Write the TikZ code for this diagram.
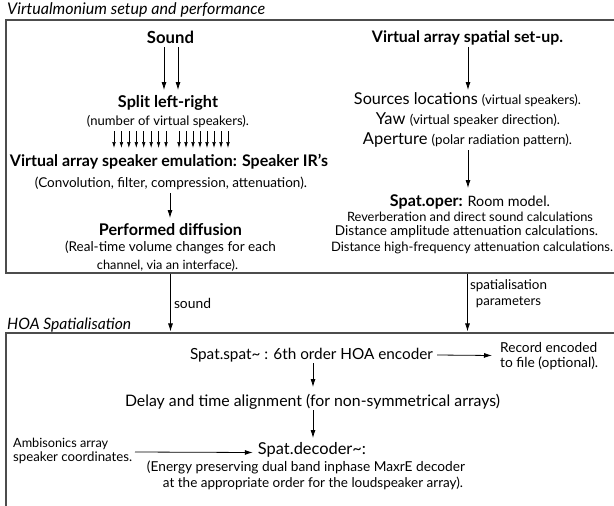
\documentclass[tikz,border=0pt]{standalone}
\usepackage{fontspec}
\usepackage{graphicx}
\setmainfont{Lato}
\usetikzlibrary{arrows.meta,calc}
\newcommand\fw[2]{\resizebox{#1pt}{!}{#2}}
\newcommand\smx{\fontsize{10.5}{12}\selectfont}
\tikzset{
  tx/.style={inner sep=0pt, font=\fontsize{12}{14}\selectfont},
  hb/.style={inner sep=0pt, font=\fontsize{13}{15}\selectfont\bfseries},
  ttl/.style={inner sep=0pt, anchor=west, font=\fontsize{13}{15}\selectfont\itshape},
  frame/.style={line width=1.2pt, draw=black!70, rectangle, inner sep=0pt},
  arr/.style={line width=0.8pt, -{Latex[length=8pt,width=5pt]}},
  sarr/.style={line width=0.6pt, -{Latex[length=6pt,width=3.6pt]}},
}
\begin{document}
\begin{tikzpicture}[x=1pt,y=-1pt]
\useasboundingbox (0,0) rectangle (614,506);
\fill[white] (0,0) rectangle (614,506);
\clip (0,0) rectangle (614,506);
% frames
\node[frame, minimum width=634pt, minimum height=253pt] (box1) at (323,146.5) {};
\node[frame, minimum width=634pt, minimum height=197pt] (box2) at (323,431.5) {};
\node[ttl] (t1) at (7,10) {\fw{258}{Virtualmonium setup and performance}};
\node[ttl] (t2) at (7,325) {\fw{124}{HOA Spatialisation}};
% left column
\node[hb] (sound) at (170.5,37.5) {\fw{47}{Sound}};
\node[hb] (split) at (168,103) {\fw{100}{Split left-right}};
\node[tx] (numspk) at (168,122) {\fw{162}{(number of virtual speakers).}};
\node[hb] (emul) at (169,162) {\fw{318}{Virtual array speaker emulation: Speaker IR’s}};
\node[tx] (conv) at (171,183) {\fw{272}{(Convolution, filter, compression, attenuation).}};
\node[hb] (perf) at (170.5,230) {\fw{143}{Performed diffusion}};
\node[tx] (real1) at (170.5,247) {\fw{211}{(Real-time volume changes for each}};
\node[tx] (real2) at (167.5,265) {\fw{141}{channel, via an interface).}};
\draw[arr] ($(sound)+(-6.5,9.5)$) -- ($(split)+(-4,-13)$);
\draw[arr] ($(sound)+(7.5,9.5)$) -- ($(split)+(10,-13)$);
\foreach \i in {0,...,7}{
  \draw[sarr] ($(numspk)+({114+7.43*\i-168},9)$) -- ($(emul)+({114+7.43*\i-169},-14)$);
  \draw[sarr] ($(numspk)+({179+7*\i-168},9)$) -- ($(emul)+({179+7*\i-169},-14)$);
}
\draw[arr] ($(conv)+(-1,10)$) -- ($(perf)+(-0.5,-12)$);
% right column
\node[hb] (vas) at (467.5,38) {\fw{191}{Virtual array spatial set-up.}};
\node[tx] (src) at (467.5,100) {\fw{227}{\fontsize{13}{15}\selectfont Sources locations {\smx(virtual speakers).}}};
\node[tx] (yaw) at (468,120) {\fw{184}{\fontsize{13}{15}\selectfont Yaw {\smx(virtual speaker direction).}}};
\node[tx] (ap) at (467.5,140) {\fw{209}{\fontsize{13}{15}\selectfont Aperture {\smx(polar radiation pattern).}}};
\node[tx] (oper) at (470,202) {\fw{160}{{\fontsize{13.5}{15}\selectfont\bfseries Spat.oper:} Room model.}};
\node[tx] (rev) at (470,217) {\fw{246}{Reverberation and direct sound calculations}};
\node[tx] (dam) at (466.5,232) {\fw{263}{Distance amplitude attenuation calculations.}};
\node[tx] (dhf) at (472,248) {\fw{282}{Distance high-frequency attenuation calculations.}};
\draw[arr] ($(vas)+(0.5,9)$) -- ($(src)+(0.5,-10)$);
\draw[arr] ($(ap)+(0.5,10)$) -- ($(oper)+(-2,-14)$);
% between boxes
\draw[arr] (box1.south -| perf) -- ([yshift=1pt]box2.north -| perf);
\draw[arr] (box1.south -| src) -- ([yshift=1pt]box2.north -| src);
\node[tx] (lsound) at (192.5,303) {\fw{37}{sound}};
\node[tx] (lsp1) at (508.5,286) {\fw{77}{spatialisation}};
\node[tx] (lsp2) at (508.5,302) {\fw{65}{parameters}};
% bottom box
\node[tx] (enc) at (311.5,355) {\fw{243}{\fontsize{13}{15}\selectfont Spat.spat\textasciitilde{} : 6th order HOA encoder}};
\node[tx, anchor=west] (rec1) at (500,348) {\fw{97}{Record encoded}};
\node[tx, anchor=west] (rec2) at (500,363) {\fw{98}{to file (optional).}};
\node[tx] (delay) at (312.5,402) {\fw{375}{Delay and time alignment (for non-symmetrical arrays)}};
\node[tx] (dec) at (312,450) {\fw{108}{Spat.decoder\textasciitilde:}};
\node[tx] (en1) at (306,467) {\fw{318}{(Energy preserving dual band inphase MaxrE decoder}};
\node[tx] (en2) at (313,483) {\fw{300}{at the appropriate order for the loudspeaker array).}};
\node[tx, anchor=west] (amb1) at (13,444) {\fw{95}{Ambisonics array}};
\node[tx, anchor=west] (amb2) at (13,458) {\fw{119}{speaker coordinates.}};
\draw[arr] ([xshift=4pt]enc.east) -- ($($(rec1.west)!0.5!(rec2.west)$)+(-8,0)$);
\draw[arr] ($(enc)+(1.5,8)$) -- ($(delay)+(0.5,-15)$);
\draw[arr] ($(delay)+(0.5,8)$) -- ($(dec)+(1,-12)$);
\draw[arr] ($($(amb1.west)!0.5!(amb2.west)$)+(122,1)$) -- ($(dec.west)+(-5,2.5)$);
\end{tikzpicture}
\end{document}
